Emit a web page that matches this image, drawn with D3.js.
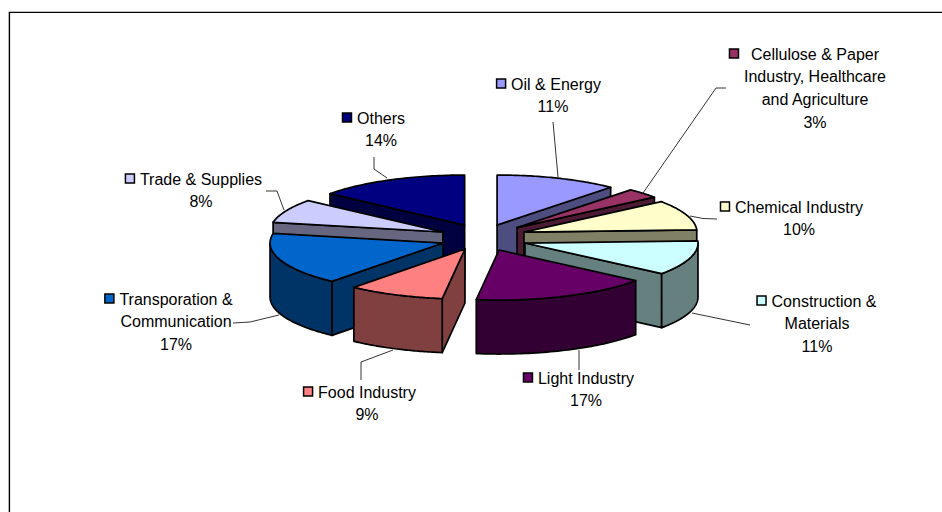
<!DOCTYPE html>
<html><head><meta charset="utf-8">
<script src="https://cdn.jsdelivr.net/npm/d3@7/dist/d3.min.js"></script>
<style>html,body{margin:0;padding:0;background:#fff;overflow:hidden}svg{display:block}
text{font-family:"Liberation Sans",Arial,sans-serif;font-size:16px;fill:#000}</style>
</head><body><svg width="942" height="512"></svg>
<script>
const categories = ["Oil & Energy","Cellulose & Paper Industry, Healthcare and Agriculture","Chemical Industry","Construction & Materials","Light Industry","Food Industry","Transporation & Communication","Trade & Supplies","Others"];
const values = [11.4,3.2,9.7,11.2,16.6,9,17,7.7,14.2];
const topColors = ["#9999FF","#993366","#FFFFCC","#CCFFFF","#660066","#FF8080","#0066CC","#CCCCFF","#000080"];
const labelLines = [["Oil & Energy","11%"],["Cellulose & Paper","Industry, Healthcare","and Agriculture","3%"],["Chemical Industry","10%"],["Construction &","Materials","11%"],["Light Industry","17%"],["Food Industry","9%"],["Transporation &","Communication","17%"],["Trade & Supplies","8%"],["Others","14%"]];
const paintOrder = [8,0,1,2,3,4,7,6,5];
const nudgeX = [-2,1.7,-.5,0,-1.3,-1.7,-.4,-2.2,-.8];
const nudgeY = [-.3,-1,-1,1.6,.5,-.4,1.2,0,-.7];

const svg = d3.select("svg");
svg.append("path").attr("d","M9.4 512V12.4H942").attr("fill","none").attr("stroke","#000").attr("stroke-width",1.4);

const C = {x:484,y:237.5,rx:173,ry:50,depth:54,ex:43,ey:13};
const arcs = d3.pie().sort(null).value(d=>d)(values);
const px = (o,a)=>o.x+C.rx*Math.sin(a), py=(o,a)=>o.y-C.ry*Math.cos(a);
const rim = (o,a0,a1,dy=0)=>{const n=48,p=[];for(let i=0;i<=n;i++){const a=a0+(a1-a0)*i/n;p.push([px(o,a),py(o,a)+dy]);}return p;};
const line = d3.line();
const g = svg.append("g").attr("stroke","#000").attr("stroke-width",1.7).attr("stroke-linejoin","round");
paintOrder.forEach(i=>{
  const s=arcs[i], mid=(s.startAngle+s.endAngle)/2;
  const o={x:C.x+C.ex*Math.sin(mid)+nudgeX[i],y:C.y-C.ey*Math.cos(mid)+nudgeY[i]};
  const side=d3.color(topColors[i]);
  const dark=d3.rgb(side.r*.5,side.g*.5,side.b*.5).formatHex();
  const quad=a=>[[o.x,o.y],[px(o,a),py(o,a)],[px(o,a),py(o,a)+C.depth],[o.x,o.y+C.depth]];
  const P=Math.PI;
  if(s.startAngle>P && s.startAngle<2*P) g.append("path").attr("d",line(quad(s.startAngle))+"Z").attr("fill",dark);
  if(s.endAngle>0 && s.endAngle<P) g.append("path").attr("d",line(quad(s.endAngle))+"Z").attr("fill",dark);
  const w0=Math.max(s.startAngle,P/2), w1=Math.min(s.endAngle,3*P/2);
  if(w1>w0) g.append("path").attr("d",line([...rim(o,w0,w1),...rim(o,w1,w0,C.depth)])+"Z").attr("fill",dark);
  g.append("path").attr("d",line([[o.x,o.y],...rim(o,s.startAngle,s.endAngle)])+"Z").attr("fill",topColors[i]);
});

const leaders = [[[553,122],[558,177]],[[726,88],[716,88],[643,193]],[[717,219],[703,218.5],[690,216]],[[750,325],[692,313]],[[579,350],[579,370]],[[361,380],[361,362],[393,350]],[[233,323],[250,322],[279,315]],[[266,191],[277,191],[284,210]],[[374,157],[374,169],[387,178]]];
leaders.forEach(l=>svg.append("path").attr("d",line(l)).attr("fill","none").attr("stroke","#000").attr("stroke-width",.8));

const anchors = [[553,84],[815,54],[799,207],[817,301],[586,378],[367,392],[176,299],[201,179],[381,118]];
const firstShift = [3,0,0,7,0,0,0,0,0];
const keyGap = [15,22,15,15,15,15,15,15,15];
const lh = 22.7;
labelLines.forEach((ls,i)=>{
  const [cx,y0]=anchors[i];
  const lg=svg.append("g");
  ls.forEach((t,j)=>lg.append("text").attr("x",cx+(j?0:firstShift[i])).attr("y",y0+j*lh).attr("dy","0.36em").attr("text-anchor","middle").text(t));
  const tw=lg.select("text").node().getComputedTextLength();
  lg.append("rect").attr("x",cx+firstShift[i]-tw/2-keyGap[i]+.5).attr("y",y0-5).attr("width",9).attr("height",9).attr("fill",topColors[i]).attr("stroke","#000").attr("stroke-width",1.5);
});
</script></body></html>
